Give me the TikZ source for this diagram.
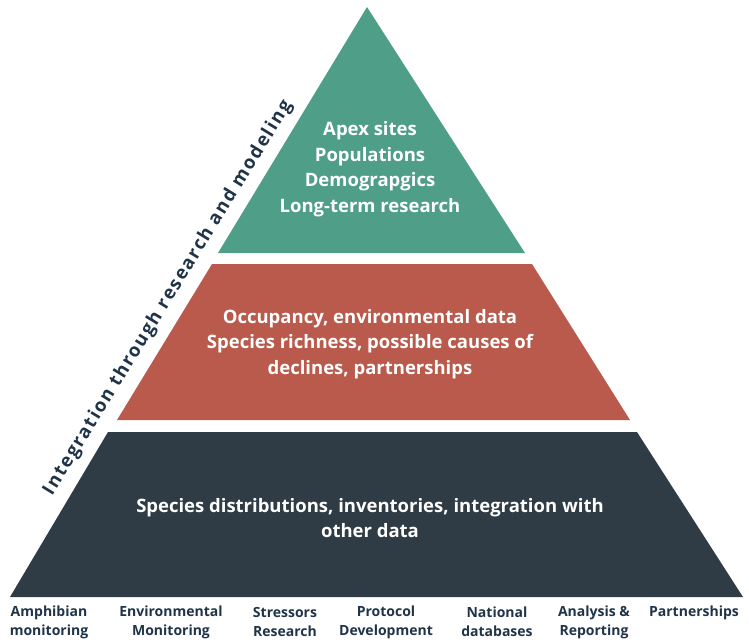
\documentclass[tikz,border=0pt]{standalone}
\usepackage{fontspec}
\setmainfont{Open Sans}
\usetikzlibrary{positioning}
\definecolor{apexgreen}{HTML}{4F9E88}
\definecolor{occred}{HTML}{B95A4C}
\definecolor{basedark}{HTML}{2F3B45}
\definecolor{labelnavy}{HTML}{1F3448}
\begin{document}
\begin{tikzpicture}[x=1pt,y=-1pt,
  tiertext/.style={text=white, font=\bfseries\fontsize{18.5}{25.5}\selectfont, align=center},
  tasklabel/.style={text=labelnavy, font=\bfseries\fontsize{14}{19}\selectfont, align=center},
  sidelabel/.style={text=labelnavy, font=\bfseries\fontsize{18.5}{20}\selectfont\addfontfeatures{LetterSpace=9}, rotate=58.5}
]
\useasboundingbox (0,0) rectangle (749,641);
% pyramid tiers
\fill[apexgreen] (367,7) -- (525,253) -- (218,253) -- cycle;
\fill[occred] (212,264) -- (532,264) -- (630,420) -- (117,420) -- cycle;
\fill[basedark] (108,432) -- (637,432) -- (743,597) -- (10,597) -- cycle;
% tier texts
\node[tiertext] (apex) at (370,169) {Apex sites\\Populations\\Demograpgics\\Long-term research};
\node[tiertext] (occ) at (370,344) {Occupancy, environmental data\\Species richness, possible causes of\\declines, partnerships};
\node[tiertext] (base) at (370,518) {Species distributions, inventories, integration with\\other data};
% side label
\node[sidelabel] (integ) at (168,298) {Integration through research and modeling};
% activities
\node[tasklabel] (amph) at (49,622) {Amphibian\\monitoring};
\node[tasklabel] (env) at (171,622) {Environmental\\Monitoring};
\node[tasklabel] (stress) at (285,622) {Stressors\\Research};
\node[tasklabel] (proto) at (386,622) {Protocol\\Development};
\node[tasklabel] (natdb) at (497,622) {National\\databases};
\node[tasklabel] (anal) at (594,622) {Analysis \&\\Reporting};
\node[tasklabel] (part) at (694,613) {Partnerships};
\end{tikzpicture}
\end{document}
